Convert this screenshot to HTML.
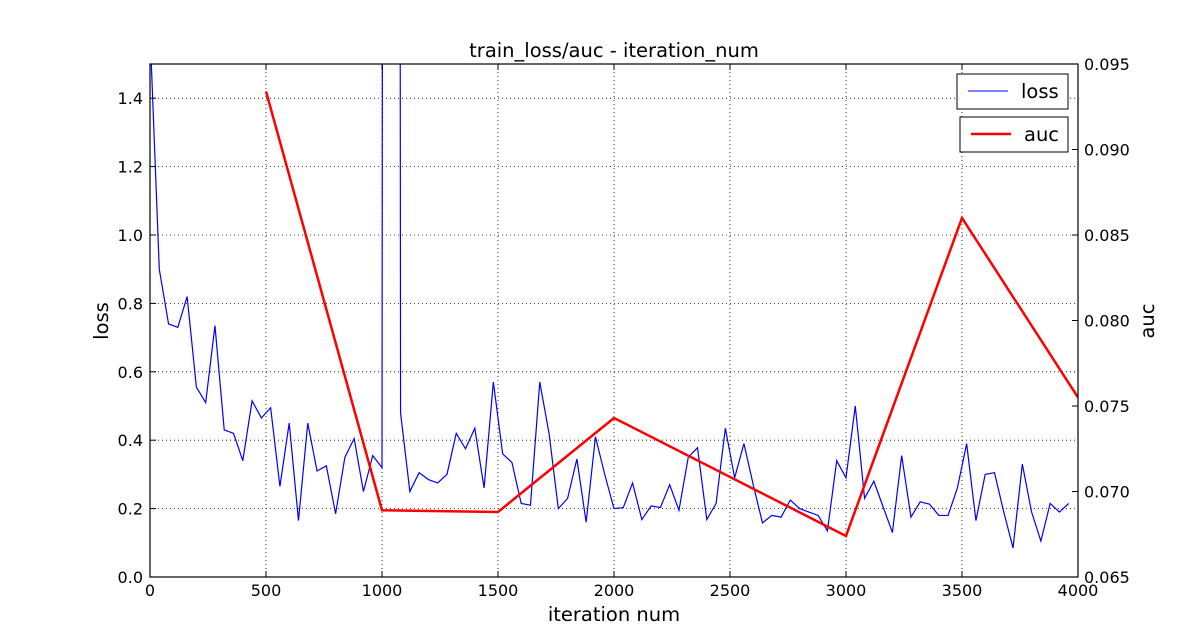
<!DOCTYPE html>
<html><head><meta charset="utf-8"><style>
body{margin:0;background:#fff;}
svg{display:block;font-family:"DejaVu Sans","Liberation Sans",sans-serif;}
</style></head><body>
<svg id="chart" width="1197" height="642" viewBox="0 0 1197 642" xmlns="http://www.w3.org/2000/svg">
<defs><clipPath id="plotclip"><rect x="150" y="64" width="928" height="513"/></clipPath></defs>
<rect width="1197" height="642" fill="#fff"/>
<g id="grid"></g>
<g id="series" clip-path="url(#plotclip)"></g>
<rect x="150" y="64" width="928" height="513" fill="none" stroke="#000" stroke-width="1.2"/>
<g id="axes"></g>
<text x="614" y="57" font-size="19.5" text-anchor="middle">train_loss/auc - iteration_num</text>
<text x="614" y="621" font-size="19.5" text-anchor="middle">iteration num</text>
<text transform="translate(108,321) rotate(-90)" font-size="19.5" text-anchor="middle">loss</text>
<text transform="translate(1154,321) rotate(-90)" font-size="19.5" text-anchor="middle">auc</text>
<g>
<rect x="957" y="74" width="111" height="35" fill="#fff" stroke="#000" stroke-width="1"/>
<line x1="968" y1="91" x2="1008" y2="91" stroke="#0000ff" stroke-width="1"/>
<text x="1021" y="98" font-size="19.5">loss</text></g>
<g>
<rect x="960" y="117" width="108" height="35" fill="#fff" stroke="#000" stroke-width="1"/>
<line x1="971" y1="134" x2="1011" y2="134" stroke="#ff0000" stroke-width="2.5"/>
<text x="1024" y="141" font-size="19.5">auc</text></g>
</svg>
<script>
const lossIters = Array.from({length:100},(_,i)=>i*40);
const lossValues = [1.6,0.90,0.74,0.73,0.82,0.555,0.51,0.735,0.43,0.42,0.34,0.515,0.465,0.495,0.265,0.45,0.165,0.45,0.31,0.325,0.185,0.35,0.405,0.25,0.355,0.32,30,0.48,0.25,0.305,0.285,0.275,0.30,0.42,0.375,0.435,0.26,0.57,0.36,0.335,0.215,0.21,0.57,0.42,0.20,0.23,0.345,0.16,0.41,0.30,0.20,0.203,0.275,0.168,0.208,0.203,0.27,0.195,0.35,0.378,0.168,0.215,0.435,0.29,0.39,0.27,0.158,0.18,0.175,0.225,0.2,0.19,0.18,0.135,0.34,0.29,0.50,0.23,0.28,0.205,0.13,0.355,0.175,0.22,0.213,0.18,0.18,0.26,0.39,0.165,0.30,0.305,0.19,0.085,0.33,0.19,0.105,0.215,0.19,0.215];
const aucIters = [500,1000,1500,2000,3000,3500,4000];
const aucValues = [0.0934,0.0689,0.0688,0.0743,0.0674,0.0860,0.0755];
const xTicks = [0,500,1000,1500,2000,2500,3000,3500,4000];
const lossTicks = [0,0.2,0.4,0.6,0.8,1.0,1.2,1.4];
const aucTicks = [0.065,0.070,0.075,0.080,0.085,0.090,0.095];

const L=150,R=1078,T=64,B=577;
const xS=v=>L+(v/4000)*(R-L);
const yL=v=>B-(v/1.5)*(B-T);
const yA=v=>B-((v-0.065)/0.03)*(B-T);
const NS='http://www.w3.org/2000/svg';
function mk(tag,attrs,parent){const e=document.createElementNS(NS,tag);for(const k in attrs)e.setAttribute(k,attrs[k]);parent.appendChild(e);return e;}
const grid=document.getElementById('grid'),axes=document.getElementById('axes'),series=document.getElementById('series');
xTicks.forEach(t=>{
  const gl=mk('line',{x1:xS(t),x2:xS(t),y1:T,y2:B,stroke:'#000','stroke-width':0.8,'stroke-dasharray':'1,3'},grid);
  
  
  mk('line',{x1:xS(t),x2:xS(t),y1:B,y2:B-6,stroke:'#000'},axes);
  mk('line',{x1:xS(t),x2:xS(t),y1:T,y2:T+6,stroke:'#000'},axes);
  const tx=mk('text',{x:xS(t),y:B+19,'font-size':16,'text-anchor':'middle'},axes);
  tx.textContent=t;
  
  
});
lossTicks.forEach(t=>{
  const gl=mk('line',{x1:L,x2:R,y1:yL(t),y2:yL(t),stroke:'#000','stroke-width':0.8,'stroke-dasharray':'1,3'},grid);
  
  
  mk('line',{x1:L,x2:L+6,y1:yL(t),y2:yL(t),stroke:'#000'},axes);
  const tx=mk('text',{x:L-7,y:yL(t)+6,'font-size':16,'text-anchor':'end'},axes);
  tx.textContent=t.toFixed(1);
  
  
});
aucTicks.forEach(t=>{
  mk('line',{x1:R,x2:R-6,y1:yA(t),y2:yA(t),stroke:'#000'},axes);
  const tx=mk('text',{x:R+6,y:yA(t)+6,'font-size':16,'text-anchor':'start'},axes);
  tx.textContent=t.toFixed(3);
  
  
});
const lp=mk('polyline',{points:lossIters.map((x,i)=>xS(x)+','+yL(lossValues[i])).join(' '),fill:'none',stroke:'#0000ff','stroke-width':1.2},series);


const ap=mk('polyline',{points:aucIters.map((x,i)=>xS(x)+','+yA(aucValues[i])).join(' '),fill:'none',stroke:'#ff0000','stroke-width':2.5},series);


</script>
</body></html>
